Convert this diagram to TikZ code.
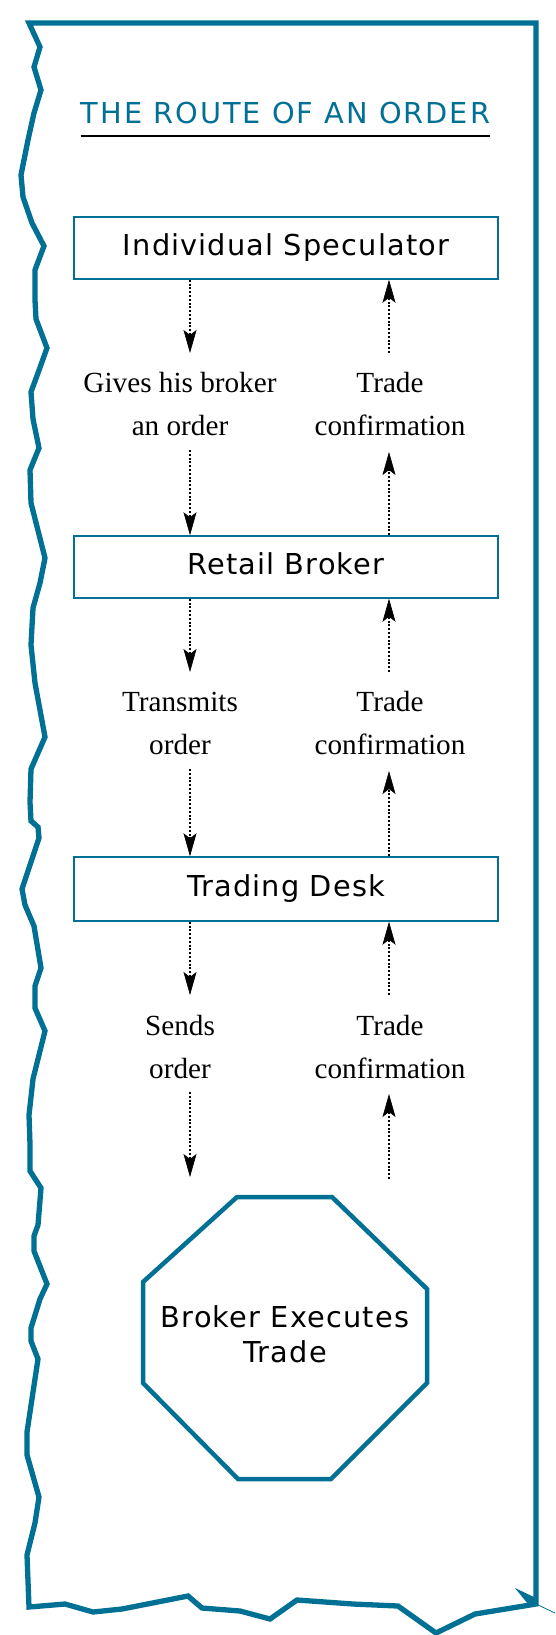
\documentclass[tikz,border=0pt]{standalone}
\usepackage{fontspec}
\usetikzlibrary{arrows.meta}
\definecolor{routeteal}{RGB}{0,112,148}
\newfontfamily\boxfont[LetterSpace=4]{DejaVu Sans}
\newfontfamily\titlefont[LetterSpace=7]{DejaVu Sans}
\newfontfamily\serf{Liberation Serif}
\begin{document}
\begin{tikzpicture}[x=1pt,y=-1pt,
  stepbox/.style={draw=routeteal,line width=1.5pt,minimum width=424pt,minimum height=62pt,
    inner sep=0pt,text height=22pt,text depth=7pt,font=\boxfont\fontsize{28.8}{34}\selectfont,text=black},
  octtext/.style={inner sep=0pt,anchor=base,font=\boxfont\fontsize{28.8}{34}\selectfont,text=black},
  lbl/.style={inner sep=0pt,anchor=base,font=\serf\fontsize{29.2}{43}\selectfont,text=black},
  flow/.style={line width=2.5pt,dash pattern=on 2pt off 1.8pt,
    -{Stealth[length=23pt,width=13pt,inset=5pt,line width=0.6pt]}},
  frame/.style={draw=routeteal,line width=5.3pt,line join=miter,miter limit=20},
  oct/.style={draw=routeteal,line width=4.5pt,line join=miter}
]
\useasboundingbox (0,0) rectangle (555,1635);
% torn frame
\draw[frame] (29,23) -- (536,23) -- (536,1604) -- (475,1614) -- (436,1633) -- (398,1606) -- (353,1604)
  -- (297,1600) -- (270,1619) -- (240,1611) -- (202,1608) -- (188,1596) -- (122,1609) -- (93,1612)
  -- (65,1604) -- (29,1607) -- (27,1555) -- (35,1523) -- (39,1497) -- (27,1455) -- (27,1432)
  -- (38,1359) -- (31,1341) -- (31,1328) -- (40,1299) -- (47,1284) -- (34,1251) -- (34,1236)
  -- (38,1225) -- (41,1188) -- (30,1171) -- (30,1144) -- (29,1115) -- (33,1079) -- (45,1031)
  -- (35,1008) -- (35,986) -- (41,968) -- (34,926) -- (25,905) -- (22,889) -- (39,838) -- (38,827)
  -- (31,821) -- (30,802) -- (31,769) -- (45,737) -- (35,683) -- (31,645) -- (33,608) -- (40,583)
  -- (45,558) -- (31,503) -- (30,470) -- (39,448) -- (33,419) -- (31,392) -- (38,373) -- (47,348)
  -- (36,319) -- (35,300) -- (35,270) -- (44,246) -- (32,223) -- (23,197) -- (21,175) -- (28,140)
  -- (34,113) -- (41,90) -- (34,67) -- (40,47) -- cycle;
\fill[routeteal] (515,1588) -- (536,1598) -- (538,1605) -- (528,1604) -- cycle;
\draw[routeteal,line width=0.8pt] (536,1604) -- (555,1613);
% title
\node[inner sep=0pt,anchor=base,text=routeteal,font=\titlefont\fontsize{28.8}{34}\selectfont] (title) at (285.5,124) {THE ROUTE OF AN ORDER};
\draw[line width=2.5pt] ([yshift=-12pt]title.base west) -- ([yshift=-12pt]title.base east);
% boxes
\node[stepbox] (b1) at (286,248) {Individual Speculator};
\node[stepbox] (b2) at (286,567) {Retail Broker};
\node[stepbox,minimum height=64pt] (b3) at (286,889) {Trading Desk};
% labels
\node[lbl] (g1a) at (180,392) {Gives his broker};
\node[lbl] (g1b) at (180,435) {an order};
\node[lbl] (c1a) at (390,392) {Trade};
\node[lbl] (c1b) at (390,435) {confirmation};
\node[lbl] (g2a) at (180,711) {Transmits};
\node[lbl] (g2b) at (180,754) {order};
\node[lbl] (c2a) at (390,711) {Trade};
\node[lbl] (c2b) at (390,754) {confirmation};
\node[lbl] (g3a) at (180,1035) {Sends};
\node[lbl] (g3b) at (180,1078) {order};
\node[lbl] (c3a) at (390,1035) {Trade};
\node[lbl] (c3b) at (390,1078) {confirmation};
% octagon
\draw[oct] (237,1197) -- (332,1197) -- (427,1289) -- (427,1383) -- (331,1479) -- (238,1479)
  -- (143,1383) -- (143,1282) -- cycle;
\node[octtext] (ex1) at (285,1327) {Broker Executes};
\node[octtext] (ex2) at (285,1362) {Trade};
% arrow anchors
\coordinate (cL) at (190,0);
\coordinate (cR) at (389,0);
\coordinate (d1) at (190,353);
\coordinate (d2) at (190,450);
\coordinate (u1) at (389,353);
\coordinate (u2) at (389,452);
\coordinate (d3) at (190,672);
\coordinate (d4) at (190,769);
\coordinate (u3) at (389,672);
\coordinate (u4) at (389,771);
\coordinate (d5) at (190,995);
\coordinate (d6) at (190,1092);
\coordinate (d7) at (190,1177);
\coordinate (u5) at (389,995);
\coordinate (u6) at (389,1179);
\coordinate (u7) at (389,1094);
% arrows
\draw[flow] (b1.south -| cL) -- (d1);
\draw[flow] (d2) -- (b2.north -| cL);
\draw[flow] (u1) -- (b1.south -| cR);
\draw[flow] (b2.north -| cR) -- (u2);
\draw[flow] (b2.south -| cL) -- (d3);
\draw[flow] (d4) -- (b3.north -| cL);
\draw[flow] (u3) -- (b2.south -| cR);
\draw[flow] (b3.north -| cR) -- (u4);
\draw[flow] (b3.south -| cL) -- (d5);
\draw[flow] (d6) -- (d7);
\draw[flow] (u5) -- (b3.south -| cR);
\draw[flow] (u6) -- (u7);
\end{tikzpicture}
\end{document}
